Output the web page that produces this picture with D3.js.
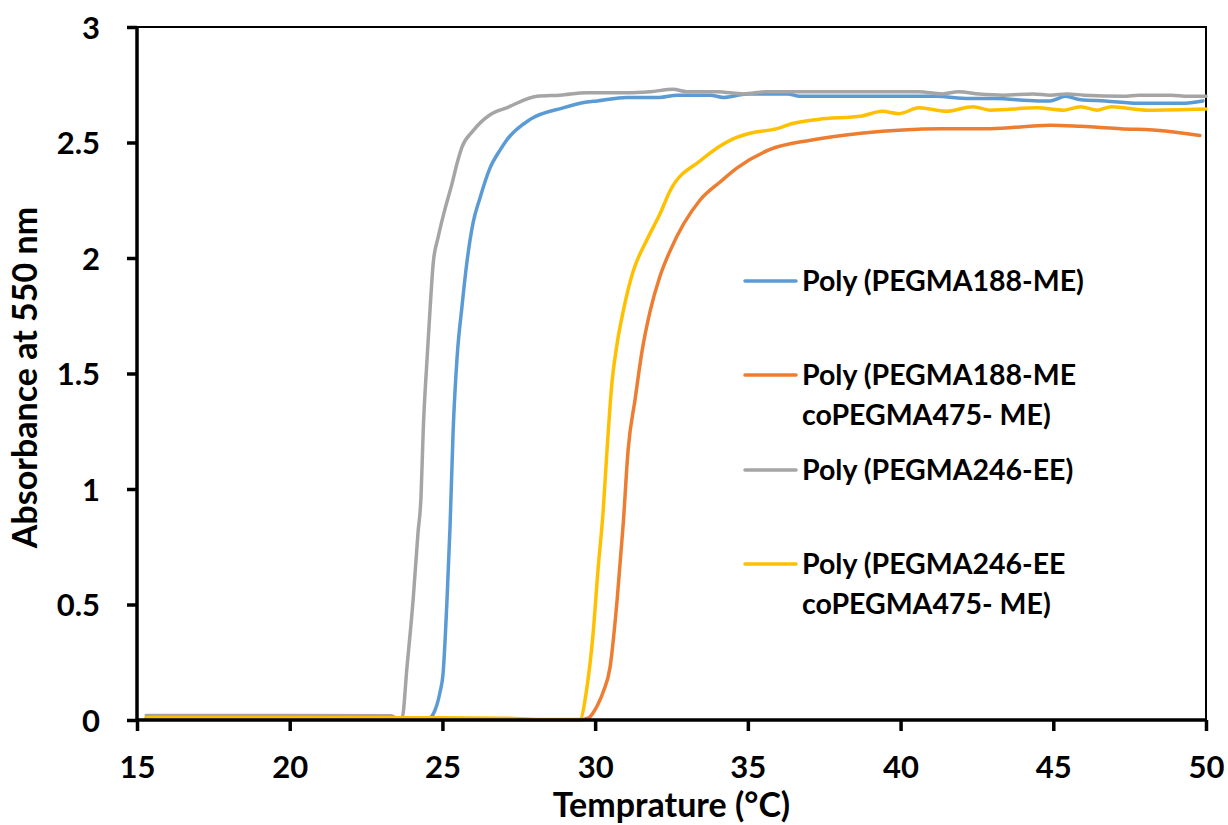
<!DOCTYPE html>
<html>
<head>
<meta charset="utf-8">
<script src="https://cdn.jsdelivr.net/npm/d3@7"></script>
<style>
  html, body { margin: 0; padding: 0; background: #ffffff; }
  svg { display: block; }
  text { font-family: Lato, "Open Sans", sans-serif; font-weight: 700; fill: #000; }
</style>
</head>
<body>
<svg id="chart" width="1228" height="825"></svg>
<script>
// ---------- data ----------
const xTicks = [15, 20, 25, 30, 35, 40, 45, 50];
const yTicks = [0, 0.5, 1, 1.5, 2, 2.5, 3];
const yTickLabels = ["0", "0.5", "1", "1.5", "2", "2.5", "3"];
const xTitle = "Temprature (°C)";
const yTitle = "Absorbance at 550 nm";

const seriesNames = [
  ["Poly (PEGMA188-ME)"],
  ["Poly (PEGMA188-ME", "coPEGMA475- ME)"],
  ["Poly (PEGMA246-EE)"],
  ["Poly (PEGMA246-EE", "coPEGMA475- ME)"]
];
const seriesColors = ["#5B9BD5", "#ED7D31", "#A5A5A5", "#FFC000"];

// Poly (PEGMA188-ME)  [temperature, absorbance]
const blueData = [
  [15.3,0.006],[20,0.006],[24.3,0.005],[24.53,0.005],[24.75,0.04],[24.92,0.12],[25.02,0.2],
  [25.15,0.52],[25.25,0.84],[25.35,1.25],[25.48,1.57],[25.64,1.79],[25.8,1.98],[26.0,2.15],
  [26.23,2.26],[26.56,2.39],[26.9,2.47],[27.1,2.51],[27.87,2.60],[28.95,2.65],[29.73,2.675],
  [30.06,2.68],[31.04,2.695],[32.1,2.695],[32.7,2.705],[33.76,2.705],[34.2,2.695],[34.97,2.71],
  [36.3,2.71],[36.7,2.70],[41.16,2.70],[42.24,2.69],[43.1,2.69],[44.5,2.68],[44.9,2.68],
  [45.4,2.70],[45.9,2.685],[46.7,2.68],[47.8,2.67],[49.2,2.67],[49.9,2.68]
];
// Poly (PEGMA188-ME coPEGMA475- ME)
const orangeData = [
  [15.3,0.004],[25,0.004],[28,0.001],[29.5,0.001],[29.8,0.01],[29.93,0.03],[30.1,0.07],
  [30.26,0.12],[30.49,0.23],[30.72,0.52],[30.92,0.85],[31.08,1.17],[31.31,1.39],[31.54,1.60],
  [31.8,1.77],[32.12,1.92],[32.45,2.03],[33.43,2.25],[34.1,2.33],[34.65,2.39],[35.73,2.47],
  [37.05,2.51],[38.7,2.54],[41.36,2.56],[42.93,2.56],[44.9,2.575],[45.9,2.57],[47.2,2.56],
  [48.66,2.55],[49.8,2.53]
];
// Poly (PEGMA246-EE)
const grayData = [
  [15.3,0.02],[20,0.02],[23.3,0.018],[23.55,0.008],[23.68,0.01],[23.84,0.23],[24.04,0.52],
  [24.2,0.81],[24.3,0.97],[24.37,1.25],[24.5,1.57],[24.6,1.79],[24.7,1.98],[24.86,2.09],
  [25.08,2.21],[25.31,2.32],[25.48,2.41],[25.64,2.48],[26.0,2.55],[26.56,2.62],[27.1,2.65],
  [28.1,2.70],[28.85,2.705],[29.73,2.715],[31.04,2.715],[31.8,2.72],[32.55,2.73],[33.0,2.72],
  [34.0,2.72],[34.87,2.71],[35.6,2.72],[38.7,2.72],[40.6,2.72],[41.36,2.71],[41.9,2.72],
  [42.57,2.71],[43.35,2.705],[44.34,2.71],[44.9,2.705],[45.45,2.71],[46.0,2.705],[47.3,2.70],
  [47.8,2.705],[48.86,2.705],[49.4,2.70],[50.0,2.70]
];
// Poly (PEGMA246-EE coPEGMA475- ME)
const yellowData = [
  [15.3,0.01],[20,0.01],[25,0.01],[27,0.008],[28.2,0.002],[29.5,0.002],[29.73,0.14],
  [29.93,0.37],[30.1,0.66],[30.26,0.9],[30.39,1.17],[30.55,1.46],[30.72,1.63],[30.92,1.77],
  [31.24,1.94],[31.7,2.08],[32.12,2.19],[32.45,2.29],[33.43,2.42],[34.5,2.515],[35.07,2.54],
  [35.95,2.56],[36.4,2.58],[37.3,2.60],[38.74,2.615],[39.4,2.635],[39.95,2.625],[40.6,2.65],
  [41.5,2.635],[42.37,2.655],[42.93,2.64],[44.47,2.65],[45.35,2.64],[45.9,2.655],[46.43,2.64],
  [46.9,2.655],[48.1,2.64],[50.0,2.645]
];
const allSeries = [blueData, orangeData, grayData, yellowData];

// ---------- layout ----------
const svg = d3.select("#chart");
const plotL = 137, plotR = 1206, plotT = 27, plotB = 720;

const x = d3.scaleLinear().domain([15, 50]).range([plotL, plotR]);
const y = d3.scaleLinear().domain([0, 3]).range([plotB, plotT]);

// plot frame (top & right thin)
svg.append("path")
  .attr("d", `M${plotL},${plotT}H${plotR}V${plotB}`)
  .attr("fill", "none").attr("stroke", "#000").attr("stroke-width", 2);

// series
const line = d3.line()
  .x(d => x(d[0])).y(d => y(d[1]))
  .curve(d3.curveMonotoneX);

allSeries.forEach((data, i) => {
  svg.append("path")
    .datum(data)
    .attr("d", line)
    .attr("fill", "none")
    .attr("stroke", seriesColors[i])
    .attr("stroke-width", 3.5)
    .attr("stroke-linejoin", "round")
    .attr("stroke-linecap", "round");
});

// axes
const xAxis = d3.axisBottom(x).tickValues(xTicks).tickSize(11).tickPadding(25).tickFormat(d3.format("d"));
const yAxis = d3.axisLeft(y).tickValues(yTicks).tickSize(10).tickPadding(27)
  .tickFormat((d, i) => yTickLabels[i]);

const gx = svg.append("g").attr("transform", `translate(0,${plotB})`).call(xAxis);
const gy = svg.append("g").attr("transform", `translate(${plotL},0)`).call(yAxis);

[gx, gy].forEach(g => {
  g.select(".domain").attr("stroke", "#000").attr("stroke-width", 3.5);
  g.selectAll(".tick line").attr("stroke", "#000").attr("stroke-width", 3.5);
  g.selectAll(".tick text")
    .style("font-family", "Lato, 'Open Sans', sans-serif")
    .style("font-weight", 700)
    .style("font-size", "31px")
    .attr("fill", "#000");
});
gx.select(".domain").attr("d", `M${plotL},0H${plotR}`);
gy.select(".domain").attr("d", `M0,${plotB}V${plotT}`);
gy.selectAll(".tick text").attr("dy", "0.36em");

// axis titles
svg.append("text")
  .attr("x", (plotL + plotR) / 2).attr("y", 817)
  .attr("text-anchor", "middle")
  .style("font-size", "34px")
  .text(xTitle);

svg.append("text")
  .attr("transform", `translate(37,${(plotT + plotB) / 2 + 4}) rotate(-90)`)
  .attr("text-anchor", "middle")
  .style("font-size", "34px")
  .text(yTitle);

// legend
const legendRows = [281, 375, 470, 564];
const legend = svg.append("g");
seriesNames.forEach((lines, i) => {
  const cy = legendRows[i];
  legend.append("line")
    .attr("x1", 745).attr("x2", 796)
    .attr("y1", cy).attr("y2", cy)
    .attr("stroke", seriesColors[i]).attr("stroke-width", 3.5)
    .attr("stroke-linecap", "round");
  lines.forEach((t, j) => {
    legend.append("text")
      .attr("x", 802).attr("y", cy + 10 + j * 40)
      .style("font-size", "28.5px")
      .text(t);
  });
});
</script>
</body>
</html>
